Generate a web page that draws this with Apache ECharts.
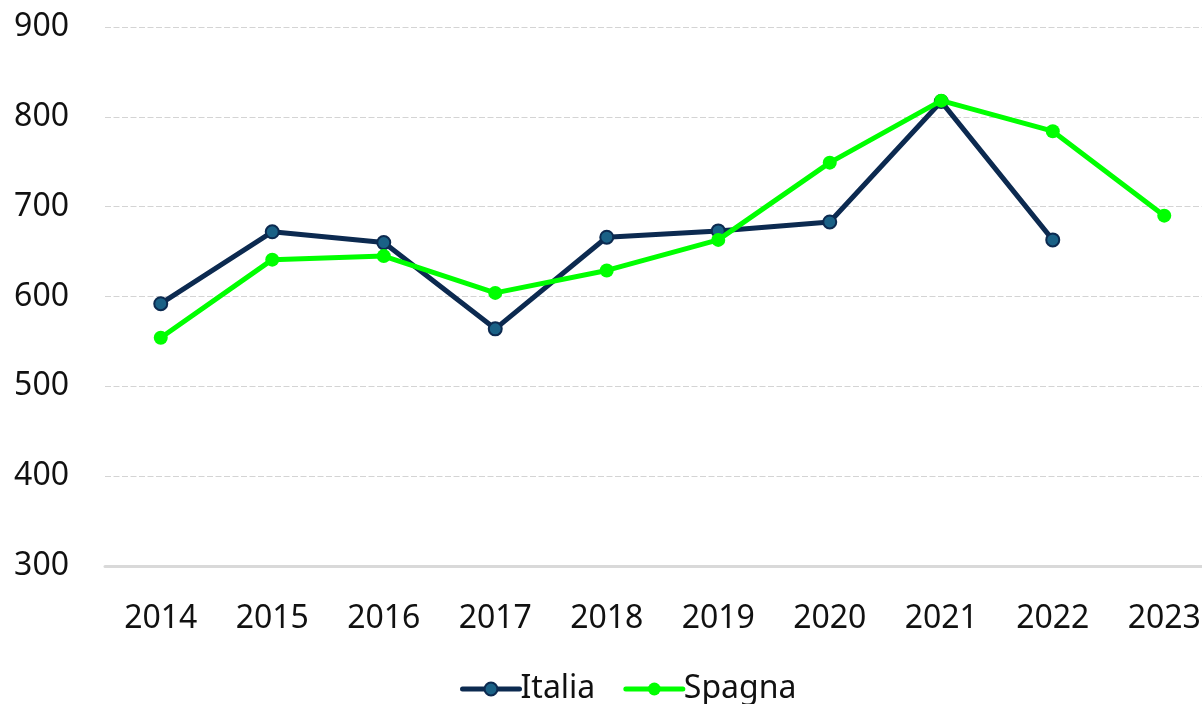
<!DOCTYPE html>
<html>
<head>
<meta charset="utf-8">
<script src="https://cdn.jsdelivr.net/npm/echarts@6/dist/echarts.min.js"></script>
<style>
html,body{margin:0;padding:0;background:#fff;}
#chart{width:1202px;height:704px;}
</style>
</head>
<body>
<div id="chart"></div>
<script>
const years = ['2014','2015','2016','2017','2018','2019','2020','2021','2022','2023'];
const italia = [592, 672, 660, 564, 666, 673, 683, 817, 663, null];
const spagna = [554, 641, 645, 604, 629, 663, 749, 818, 784, 690];
const yTicks = [300, 400, 500, 600, 700, 800, 900];

const font = '"Noto Sans", sans-serif';
const chart = echarts.init(document.getElementById('chart'));
chart.setOption({
  animation: false,
  backgroundColor: '#ffffff',
  grid: { left: 105, width: 1115, top: 27, bottom: 138, containLabel: false, outerBoundsMode: 'none' },
  legend: {
    left: 455, top: 668,
    itemWidth: 57, itemHeight: 16, itemGap: 28,
    textStyle: { fontFamily: font, fontSize: 32, color: '#111', padding: [0,0,0,-4] },
    lineStyle: { width: 5, cap: 'round' },
    data: ['Italia', 'Spagna']
  },
  xAxis: {
    type: 'category',
    data: years,
    boundaryGap: true,
    axisLine: { show: true, lineStyle: { color: '#d9d9d9', width: 3 } },
    axisTick: { show: false },
    axisLabel: { fontFamily: font, fontSize: 32, color: '#111', margin: 37, hideOverlap: false },
    splitLine: { show: false }
  },
  yAxis: {
    type: 'value',
    min: yTicks[0], max: yTicks[yTicks.length - 1], interval: 100,
    axisLine: { show: false },
    axisTick: { show: false },
    axisLabel: { fontFamily: font, fontSize: 32, color: '#111', margin: 36 },
    splitLine: { show: true, lineStyle: { color: '#d4d4d4', width: 1, type: [6, 2.5] } }
  },
  series: [
    {
      name: 'Italia', type: 'line', data: italia,
      symbol: 'circle', symbolSize: 13, connectNulls: false,
      lineStyle: { color: '#0c2a50', width: 5 },
      itemStyle: { color: '#1a6186', borderColor: '#0c2a50', borderWidth: 2 },
      z: 2
    },
    {
      name: 'Spagna', type: 'line', data: spagna,
      symbol: 'circle', symbolSize: 14,
      lineStyle: { color: '#00ff00', width: 5 },
      itemStyle: { color: '#00ff00', borderColor: '#00ff00', borderWidth: 0 },
      z: 3
    }
  ]
});
</script>
</body>
</html>
